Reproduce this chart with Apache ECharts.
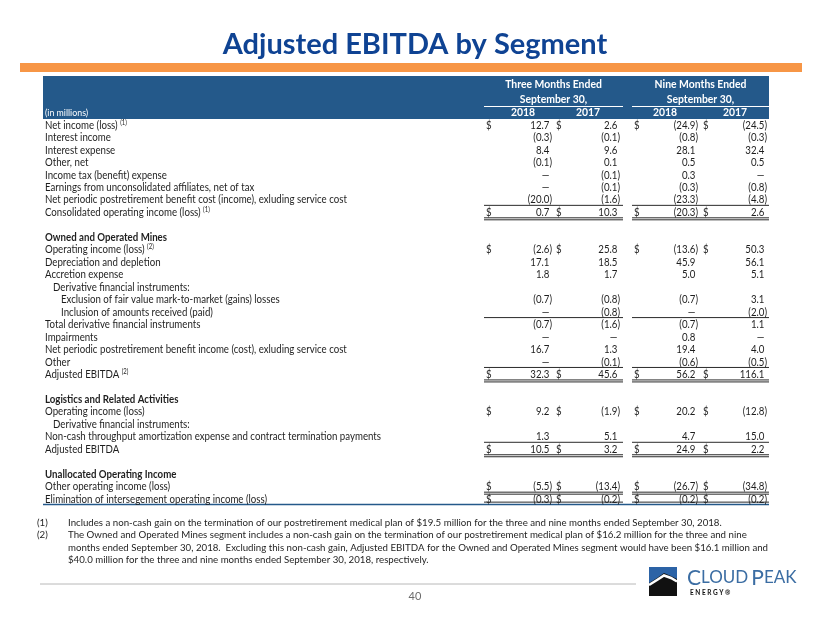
<!DOCTYPE html>
<html><head><meta charset="utf-8">
<script src="https://cdn.jsdelivr.net/npm/echarts@6/dist/echarts.min.js"></script>
<style>html,body{margin:0;padding:0;background:#fff}#c{width:830px;height:623px}</style>
</head><body><div id="c"></div>
<script>
// ---------- data ----------
const rowLabels = [
  'Net income (loss)', 'Interest income', 'Interest expense', 'Other, net',
  'Income tax (benefit) expense', 'Earnings from unconsolidated affiliates, net of tax',
  'Net periodic postretirement benefit cost (income), exluding service cost',
  'Consolidated operating income (loss)', '',
  'Owned and Operated Mines', 'Operating income (loss)', 'Depreciation and depletion',
  'Accretion expense', 'Derivative financial instruments:',
  'Exclusion of fair value mark-to-market (gains) losses', 'Inclusion of amounts received (paid)',
  'Total derivative financial instruments', 'Impairments',
  'Net periodic postretirement benefit income (cost), exluding service cost', 'Other',
  'Adjusted EBITDA', '',
  'Logistics and Related Activities', 'Operating income (loss)', 'Derivative financial instruments:',
  'Non-cash throughput amortization expense and contract termination payments', 'Adjusted EBITDA', '',
  'Unallocated Operating Income', 'Other operating income (loss)',
  'Elimination of intersegement operating income (loss)'
];
const rowNotes = ['(1)','','','','','','','(1)','','','(2)','','','','','','','','','','(2)','','','','','','','','','',''];
const rowIndent = [0,0,0,0,0,0,0,0,0,0,0,0,0,1,2,2,0,0,0,0,0,0,0,0,1,0,0,0,0,0,0];
const sectionRows = [9, 22, 28];
const threeMonths2018 = [12.7,-0.3,8.4,-0.1,0,0,-20.0,0.7,null,null,-2.6,17.1,1.8,null,-0.7,0,-0.7,0,16.7,0,32.3,null,null,9.2,null,1.3,10.5,null,null,-5.5,-0.3];
const threeMonths2017 = [2.6,-0.1,9.6,0.1,-0.1,-0.1,-1.6,10.3,null,null,25.8,18.5,1.7,null,-0.8,-0.8,-1.6,0,1.3,-0.1,45.6,null,null,-1.9,null,5.1,3.2,null,null,-13.4,-0.2];
const nineMonths2018 = [-24.9,-0.8,28.1,0.5,0.3,-0.3,-23.3,-20.3,null,null,-13.6,45.9,5.0,null,-0.7,0,-0.7,0.8,19.4,-0.6,56.2,null,null,20.2,null,4.7,24.9,null,null,-26.7,-0.2];
const nineMonths2017 = [-24.5,-0.3,32.4,0.5,0,-0.8,-4.8,2.6,null,null,50.3,56.1,5.1,null,3.1,-2.0,1.1,0,4.0,-0.5,116.1,null,null,-12.8,null,15.0,2.2,null,null,-34.8,-0.2];
const dollarRows = [0, 7, 10, 20, 23, 26, 29, 30];
const singleRuleRows = [6, 15, 19, 25, 30];
const doubleRuleRows = [7, 20, 26, 29];
const periodHeaders = ['Three Months Ended', 'Nine Months Ended'];
const periodSub = ['September 30,', 'September 30,'];
const yearHeaders = ['2018', '2017', '2018', '2017'];
const footnotes = [
  ['(1)', 'Includes a non-cash gain on the termination of our postretirement medical plan of $19.5 million for the three and nine months ended September 30, 2018.'],
  ['(2)', 'The Owned and Operated Mines segment includes a non-cash gain on the termination of our postretirement medical plan of $16.2 million for the three and nine'],
  ['', 'months ended September 30, 2018.  Excluding this non-cash gain, Adjusted EBITDA for the Owned and Operated Mines segment would have been $16.1 million and'],
  ['', '$40.0 million for the three and nine months ended September 30, 2018, respectively.']
];
const pageNumber = '40';

// ---------- layout ----------
const FONT = 'Lato, "Open Sans", sans-serif';
const TXT = '#1e1e1e';
const HEAD_BLUE = '#24598a';
const valueCols = [threeMonths2018, threeMonths2017, nineMonths2018, nineMonths2017];
const valRight = [552, 620, 698, 767];
const dollarLeft = [486, 556, 634, 703];
const yearCenter = [523, 588, 665, 735];
const groupSpan = [[484, 623], [632, 769]];
const BODY = 11.2;
const SX = 0.865;

function fmt(v) {
  if (v === 0) return '—{h|)}';
  if (v < 0) return '(' + Math.abs(v).toFixed(1) + ')';
  return v.toFixed(1) + '{h|)}';
}

function renderRow(params, api) {
  const i = api.value(1);
  const y = api.coord([0, i])[1];
  const X = (x) => api.coord([x, i])[0];
  const ch = [];
  const lab = rowLabels[i];
  if (lab) {
    const bold = sectionRows.indexOf(i) >= 0;
    ch.push({
      type: 'text', x: X(45 + rowIndent[i] * 8), y: y, scaleX: SX,
      style: {
        text: rowNotes[i] ? lab + ' {sup|' + rowNotes[i] + '}' : lab,
        fill: TXT, fontFamily: FONT, fontSize: BODY, fontWeight: bold ? 'bold' : 'normal',
        align: 'left', verticalAlign: 'middle',
        rich: { sup: { fontSize: 7, fontFamily: FONT, fill: TXT, verticalAlign: 'top', padding: [0, 0, 5, 0] } }
      }
    });
  }
  const hasDollar = dollarRows.indexOf(i) >= 0;
  for (let c = 0; c < 4; c++) {
    const v = valueCols[c][i];
    if (v === null || v === undefined) continue;
    ch.push({
      type: 'text', x: X(valRight[c]), y: y, scaleX: SX,
      style: {
        text: fmt(v), fill: TXT, fontFamily: FONT, fontSize: BODY,
        align: 'right', verticalAlign: 'middle',
        rich: { h: { fill: 'rgba(0,0,0,0)', fontFamily: FONT, fontSize: BODY } }
      }
    });
    if (hasDollar) {
      ch.push({
        type: 'text', x: X(dollarLeft[c]), y: y, scaleX: SX,
        style: { text: '$', fill: TXT, fontFamily: FONT, fontSize: BODY, align: 'left', verticalAlign: 'middle' }
      });
    }
  }
  const rule = (dy) => groupSpan.forEach(g => ch.push({
    type: 'line', shape: { x1: X(g[0]), y1: y + dy, x2: X(g[1]), y2: y + dy },
    style: { stroke: '#2a2a2a', lineWidth: 1 }
  }));
  if (singleRuleRows.indexOf(i) >= 0) rule(i === 30 ? 3 : 5.5);
  if (doubleRuleRows.indexOf(i) >= 0) { rule(5.5); rule(7.5); }
  return { type: 'group', children: ch };
}

const chart = echarts.init(document.getElementById('c'), null, { renderer: 'canvas' });

const graphics = [];
// orange band
graphics.push({ type: 'rect', shape: { x: 20, y: 63, width: 782, height: 9 }, style: { fill: '#f79646' } });
// header block
graphics.push({ type: 'rect', shape: { x: 43, y: 76, width: 726, height: 43 }, style: { fill: HEAD_BLUE } });
periodHeaders.forEach((t, k) => {
  const cx = (groupSpan[k][0] + groupSpan[k][1]) / 2;
  graphics.push({ type: 'text', x: cx, y: 85, style: { text: t, fill: '#fff', fontFamily: FONT, fontWeight: 'bold', fontSize: 10.4, align: 'center', verticalAlign: 'middle' } });
  graphics.push({ type: 'text', x: cx, y: 100, style: { text: periodSub[k], fill: '#fff', fontFamily: FONT, fontWeight: 'bold', fontSize: 10.4, align: 'center', verticalAlign: 'middle' } });
  graphics.push({ type: 'line', shape: { x1: groupSpan[k][0], y1: 106.5, x2: groupSpan[k][1], y2: 106.5 }, style: { stroke: '#fff', lineWidth: 1 } });
});
yearHeaders.forEach((t, k) => {
  graphics.push({ type: 'text', x: yearCenter[k], y: 113, style: { text: t, fill: '#fff', fontFamily: FONT, fontWeight: 'bold', fontSize: 10.4, align: 'center', verticalAlign: 'middle' } });
});
graphics.push({ type: 'text', x: 45, y: 113, style: { text: '(in millions)', fill: '#fff', fontFamily: FONT, fontSize: 8.8, align: 'left', verticalAlign: 'middle' } });
// bottom rule of table
graphics.push({ type: 'line', shape: { x1: 43, y1: 504.5, x2: 769, y2: 504.5 }, style: { stroke: HEAD_BLUE, lineWidth: 1.5 } });
// footnotes
footnotes.forEach((f, k) => {
  const y = 522.5 + k * 12.5;
  if (f[0]) graphics.push({ type: 'text', x: 37, y: y, scaleX: 0.94, style: { text: f[0], fill: TXT, fontFamily: FONT, fontSize: 10.3, align: 'left', verticalAlign: 'middle' } });
  graphics.push({ type: 'text', x: 68, y: y, scaleX: 0.94, style: { text: f[1], fill: TXT, fontFamily: FONT, fontSize: 10.3, align: 'left', verticalAlign: 'middle' } });
});
// footer
graphics.push({ type: 'line', shape: { x1: 40, y1: 584, x2: 636, y2: 584 }, style: { stroke: '#b8b8b8', lineWidth: 1 } });
graphics.push({ type: 'text', x: 415, y: 596, style: { text: pageNumber, fill: '#6b6b6b', fontFamily: FONT, fontSize: 11, align: 'center', verticalAlign: 'middle' } });
// logo
graphics.push({ type: 'rect', shape: { x: 649, y: 567, width: 28, height: 29 }, style: { fill: '#111' } });
graphics.push({ type: 'polygon', shape: { points: [[649,567],[677,567],[677,579],[671,576],[664,573],[657,578],[649,583]] }, style: { fill: '#2c63a6' } });
graphics.push({ type: 'polyline', shape: { points: [[649,585],[657,580],[664,575.5],[671,578],[677,581.5]] }, style: { stroke: '#fff', lineWidth: 2.5, fill: null } });
graphics.push({ type: 'text', x: 687, y: 578, style: {
  text: '{b|C}{s|LOUD} {b|P}{s|EAK}', fill: '#3b6da3', fontFamily: FONT, align: 'left', verticalAlign: 'middle',
  rich: { b: { fontSize: 21, fontFamily: FONT, fill: '#3b6da3' }, s: { fontSize: 17, fontFamily: FONT, fill: '#3b6da3' } }
} });
graphics.push({ type: 'text', x: 690, y: 593, style: { text: 'E N E R G Y ®', fill: '#111', fontFamily: FONT, fontWeight: 'bold', fontSize: 6.5, align: 'left', verticalAlign: 'middle' } });

const TOP = 118.8, STEP = 12.47;
chart.setOption({
  animation: false,
  title: {
    text: 'Adjusted EBITDA by Segment', left: 'center', top: 25,
    textStyle: { fontFamily: FONT, fontWeight: 'bold', fontSize: 29, color: '#0f4393' }
  },
  grid: { left: 0, right: 0, top: TOP, height: STEP * rowLabels.length },
  xAxis: { type: 'value', min: 0, max: 830, show: false },
  yAxis: { type: 'category', inverse: true, data: rowLabels.map((_, i) => i), show: false },
  series: [{
    type: 'custom', renderItem: renderRow,
    data: rowLabels.map((_, i) => [0, i]),
    encode: { x: 0, y: 1 }, silent: true
  }],
  graphic: graphics
});
</script>
</body></html>
